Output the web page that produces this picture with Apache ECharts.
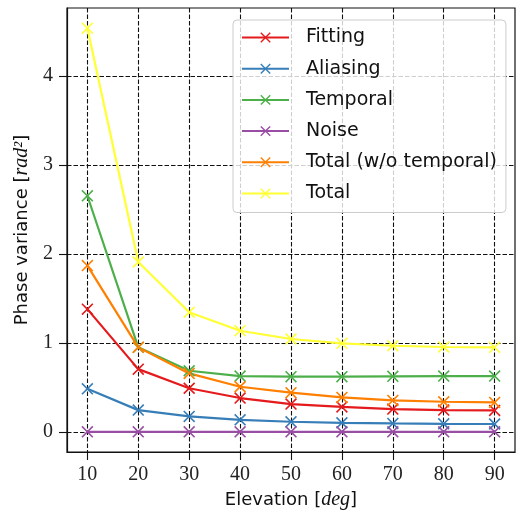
<!DOCTYPE html>
<html>
<head>
<meta charset="utf-8">
<script src="https://cdn.jsdelivr.net/npm/echarts@6/dist/echarts.min.js"></script>
<style>
  html, body { margin: 0; padding: 0; background: #fff; }
  #chart { width: 516px; height: 520px; }
</style>
</head>
<body>
<div id="chart"></div>
<script>
// Elevation angles (deg)
const elevations = [10, 20, 30, 40, 50, 60, 70, 80, 90];

// Phase variance contributions (rad^2)
const fitting = [1.38, 0.705, 0.49, 0.38, 0.312, 0.28, 0.256, 0.244, 0.241];
const aliasing = [0.484, 0.244, 0.173, 0.135, 0.113, 0.101, 0.094, 0.09, 0.088];
const temporal = [2.655, 0.95, 0.687, 0.627, 0.62, 0.62, 0.624, 0.627, 0.627];
const noise = [0, 0, 0, 0, 0, 0, 0, 0, 0];
const totalNoTemporal = [1.87, 0.95, 0.657, 0.507, 0.44, 0.387, 0.353, 0.338, 0.331];
const total = [4.54, 1.91, 1.345, 1.137, 1.044, 0.995, 0.968, 0.954, 0.95];

const seriesNames = ['Fitting', 'Aliasing', 'Temporal', 'Noise', 'Total (w/o temporal)', 'Total'];
const seriesValues = [fitting, aliasing, temporal, noise, totalNoTemporal, total];
const seriesColors = ['#e41a1c', '#377eb8', '#4daf4a', '#984ea3', '#ff7f00', '#ffff33'];

// Tick labels
const xTicks = [10, 20, 30, 40, 50, 60, 70, 80, 90];
const yTicks = [0, 1, 2, 3, 4];

// Axis extents with a 5% margin on each side of the data
const xLo = Math.min(...elevations), xHi = Math.max(...elevations);
const xPad = (xHi - xLo) * 0.05;
const allY = seriesValues.flat();
const yLo = Math.min(...allY), yHi = Math.max(...allY);
const yPad = (yHi - yLo) * 0.05;

// Cross-shaped marker, drawn as a thin filled outline
const crossSymbol = 'path://M0,0.95L0.95,0L5,4.05L9.05,0L10,0.95L5.95,5L10,9.05L9.05,10L5,5.95L0.95,10L0,9.05L4.05,5Z';

const serif = 'Liberation Serif';
const sans = 'DejaVu Sans';

const gridLine = { show: true, lineStyle: { color: '#111', width: 1.1, type: [4.5, 2] } };

const chart = echarts.init(document.getElementById('chart'), null, { renderer: 'canvas' });

chart.setOption({
  animation: false,
  backgroundColor: '#fff',
  grid: {
    left: 67, right: 1, top: 8, bottom: 68,
    outerBoundsMode: 'none',
    containLabel: false,
    show: true, borderColor: '#111', borderWidth: 1.2, backgroundColor: 'transparent'
  },
  legend: {
    orient: 'vertical',
    left: 233, top: 20,
    padding: [8, 9, 9.5, 8],
    itemWidth: 47, itemHeight: 13, itemGap: 12.2,
    backgroundColor: 'rgba(255,255,255,0.8)',
    borderColor: '#cccccc', borderWidth: 1, borderRadius: 4,
    textStyle: { fontFamily: sans, fontSize: 19, color: '#111', padding: [0, 0, 0, 12] },
    data: seriesNames
  },
  xAxis: {
    type: 'value',
    min: xLo - xPad, max: xHi + xPad,
    name: 'Elevation [{it|deg}]',
    nameLocation: 'middle', nameGap: 36,
    nameTextStyle: {
      fontFamily: sans, fontSize: 18, color: '#111',
      rich: { it: { fontFamily: serif, fontStyle: 'italic', fontSize: 20, color: '#111' } }
    },
    axisLine: { show: true, onZero: false, lineStyle: { color: '#111', width: 1.2 } },
    axisTick: { show: true, length: 8, customValues: xTicks, lineStyle: { color: '#111', width: 1.1 } },
    axisLabel: { customValues: xTicks, margin: 13, fontFamily: serif, fontSize: 20, color: '#222' },
    splitLine: gridLine
  },
  yAxis: {
    type: 'value',
    min: yLo - yPad, max: yHi + yPad,
    name: 'Phase variance [{it|rad²}]',
    nameLocation: 'middle', nameGap: 32, nameRotate: 90,
    nameTextStyle: {
      fontFamily: sans, fontSize: 18, color: '#111',
      rich: { it: { fontFamily: serif, fontStyle: 'italic', fontSize: 20, color: '#111' } }
    },
    axisLine: { show: true, onZero: false, lineStyle: { color: '#111', width: 1.2 } },
    axisTick: { show: true, length: 8, customValues: yTicks, lineStyle: { color: '#111', width: 1.1 } },
    axisLabel: { customValues: yTicks, margin: 14, fontFamily: serif, fontSize: 20, color: '#222' },
    splitLine: gridLine
  },
  series: seriesNames.map((name, i) => ({
    name,
    type: 'line',
    data: elevations.map((x, j) => [x, seriesValues[i][j]]),
    symbol: crossSymbol,
    symbolSize: 12,
    showAllSymbol: true,
    lineStyle: { color: seriesColors[i], width: 2.2 },
    itemStyle: { color: seriesColors[i] },
    emphasis: { disabled: true }
  }))
});
</script>
</body>
</html>
